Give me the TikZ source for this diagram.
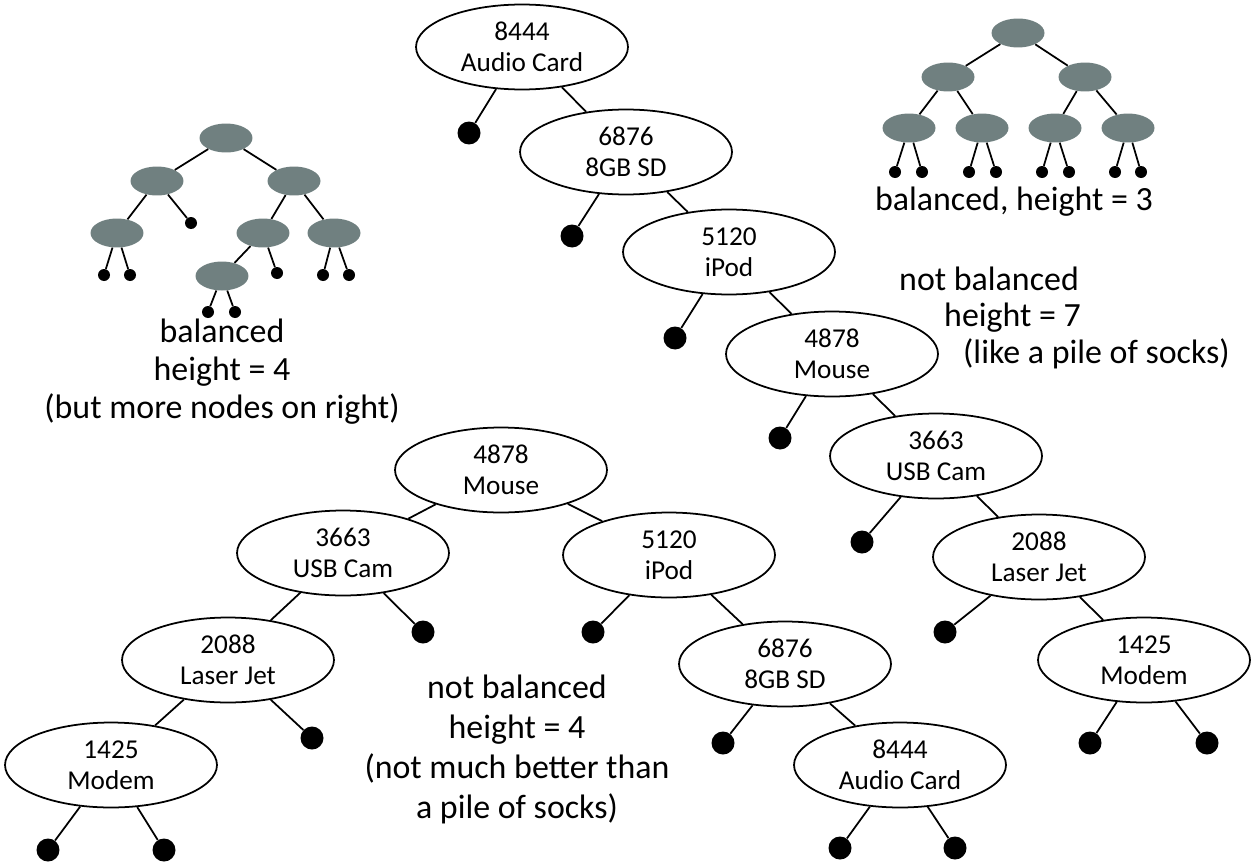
\documentclass[tikz,border=0pt]{standalone}
\usepackage{fontspec}
\setmainfont{Carlito}
\usepackage{tikz}
\usetikzlibrary{shapes.geometric}
\definecolor{treegray}{RGB}{112,128,128}

\begin{document}
\begin{tikzpicture}[
x=0.02cm,y=-0.02cm,
key/.style={
draw,
ellipse,
line width=1pt,
minimum width=4.24cm,
minimum height=1.7cm,
inner sep=0pt,
align=center,
font=\fontsize{15.5}{17.6}\selectfont
},
dot/.style={
circle,
fill=black,
inner sep=0pt,
minimum size=0.46cm
},
small/.style={
ellipse,
fill=treegray,
inner sep=0pt,
minimum width=1.06cm,
minimum height=0.58cm
},
sdot/.style={
circle,
fill=black,
inner sep=0pt,
minimum size=0.24cm
},
note/.style={
align=center,
font=\fontsize{19.3}{21.5}\selectfont
},
link/.style={line width=1pt}
]

\useasboundingbox (0,0) rectangle (1253,865);

%---------------- Pile of socks ----------------%

\node[key] (audio1) at (522,47) {8444\\Audio Card};
\node[key] (sd1) at (626,152) {6876\\8GB SD};
\node[key] (ipod1) at (729,252) {5120\\iPod};
\node[key] (mouse1) at (832,354) {4878\\Mouse};
\node[key] (cam1) at (936,456) {3663\\USB Cam};
\node[key] (jet1) at (1039,557) {2088\\Laser Jet};
\node[key] (modem1) at (1144,660) {1425\\Modem};

\node[dot] (audio1l) at (469,133) {};
\node[dot] (sd1l) at (572,236) {};
\node[dot] (ipod1l) at (675,338) {};
\node[dot] (mouse1l) at (780,438) {};
\node[dot] (cam1l) at (862,542) {};
\node[dot] (jet1l) at (945,632) {};
\node[dot] (modem1l) at (1090,743) {};
\node[dot] (modem1r) at (1207,743) {};

%---------------- Height 4 tree ----------------%

\node[key] (mouse2) at (501,470) {4878\\Mouse};
\node[key] (cam2) at (343,553) {3663\\USB Cam};
\node[key] (ipod2) at (669,555) {5120\\iPod};
\node[key] (jet2) at (228,660) {2088\\Laser Jet};
\node[key] (sd2) at (785,664) {6876\\8GB SD};
\node[key] (modem2) at (111,765) {1425\\Modem};
\node[key] (audio2) at (900,765) {8444\\Audio Card};

\node[dot] (cam2r) at (423,632) {};
\node[dot] (ipod2l) at (593,632) {};
\node[dot] (jet2r) at (312,738) {};
\node[dot] (sd2l) at (723,743) {};
\node[dot] (modem2l) at (48,850) {};
\node[dot] (modem2r) at (164,850) {};
\node[dot] (audio2l) at (840,848) {};
\node[dot] (audio2r) at (955,848) {};

%---------------- Small trees ----------------%

\node[small] (l0) at (226,138) {};
\node[small] (l1) at (157,181) {};
\node[small] (l2) at (294,181) {};
\node[small] (l3) at (117,233) {};
\node[sdot] (l4) at (191,223) {};
\node[small] (l5) at (263,233) {};
\node[small] (l6) at (334,233) {};
\node[small] (l7) at (222,276) {};
\node[sdot] (l8) at (277,273) {};
\node[sdot] (l3a) at (104,275) {};
\node[sdot] (l3b) at (130,275) {};
\node[sdot] (l6a) at (323,275) {};
\node[sdot] (l6b) at (349,275) {};
\node[sdot] (l7a) at (208,312) {};
\node[sdot] (l7b) at (235,312) {};

\node[small] (r0) at (1018,33) {};
\node[small] (r1) at (948,77) {};
\node[small] (r2) at (1085,77) {};
\node[small] (r3) at (909,128) {};
\node[small] (r4) at (982,128) {};
\node[small] (r5) at (1055,128) {};
\node[small] (r6) at (1128,128) {};
\node[sdot] (r3a) at (895,172) {};
\node[sdot] (r3b) at (922,172) {};
\node[sdot] (r4a) at (969,172) {};
\node[sdot] (r4b) at (996,172) {};
\node[sdot] (r5a) at (1042,172) {};
\node[sdot] (r5b) at (1069,172) {};
\node[sdot] (r6a) at (1115,172) {};
\node[sdot] (r6b) at (1141,172) {};

%---------------- Captions ----------------%

\node[note,anchor=base] (bal4) at (222,418)
{balanced\\height = 4\\(but more nodes on right)};

\node[note,anchor=base] (bal3) at (1014,210)
{balanced, height = 3};

\node[note,anchor=base west] (socks1) at (893,290) {not balanced};
\node[note,anchor=base west] (socks2) at (938,326) {height = 7};
\node[note,anchor=base west] (socks3) at (957,363) {(like a pile of socks)};

\node[note,anchor=base,font=\fontsize{19.3}{22.7}\selectfont] (unbal4) at (517,818)
{not balanced\\height = 4\\(not much better than\\a pile of socks)};

%---------------- Connections ----------------%

\draw[link] (audio1)--(sd1);
\draw[link] (sd1)--(ipod1);
\draw[link] (ipod1)--(mouse1);
\draw[link] (mouse1)--(cam1);
\draw[link] (cam1)--(jet1);
\draw[link] (jet1)--(modem1);

\draw[link] (audio1)--(audio1l);
\draw[link] (sd1)--(sd1l);
\draw[link] (ipod1)--(ipod1l);
\draw[link] (mouse1)--(mouse1l);
\draw[link] (cam1)--(cam1l);
\draw[link] (jet1)--(jet1l);
\draw[link] (modem1)--(modem1l);
\draw[link] (modem1)--(modem1r);

\draw[link] (mouse2)--(cam2);
\draw[link] (mouse2)--(ipod2);
\draw[link] (cam2)--(jet2);
\draw[link] (cam2)--(cam2r);
\draw[link] (ipod2)--(ipod2l);
\draw[link] (ipod2)--(sd2);
\draw[link] (jet2)--(modem2);
\draw[link] (jet2)--(jet2r);
\draw[link] (sd2)--(sd2l);
\draw[link] (sd2)--(audio2);
\draw[link] (modem2)--(modem2l);
\draw[link] (modem2)--(modem2r);
\draw[link] (audio2)--(audio2l);
\draw[link] (audio2)--(audio2r);

\draw[link] (l0)--(l1);
\draw[link] (l0)--(l2);
\draw[link] (l1)--(l3);
\draw[link] (l1)--(l4);
\draw[link] (l2)--(l5);
\draw[link] (l2)--(l6);
\draw[link] (l5)--(l7);
\draw[link] (l5)--(l8);
\draw[link] (l3)--(l3a);
\draw[link] (l3)--(l3b);
\draw[link] (l6)--(l6a);
\draw[link] (l6)--(l6b);
\draw[link] (l7)--(l7a);
\draw[link] (l7)--(l7b);

\draw[link] (r0)--(r1);
\draw[link] (r0)--(r2);
\draw[link] (r1)--(r3);
\draw[link] (r1)--(r4);
\draw[link] (r2)--(r5);
\draw[link] (r2)--(r6);
\draw[link] (r3)--(r3a);
\draw[link] (r3)--(r3b);
\draw[link] (r4)--(r4a);
\draw[link] (r4)--(r4b);
\draw[link] (r5)--(r5a);
\draw[link] (r5)--(r5b);
\draw[link] (r6)--(r6a);
\draw[link] (r6)--(r6b);

\end{tikzpicture}
\end{document}
